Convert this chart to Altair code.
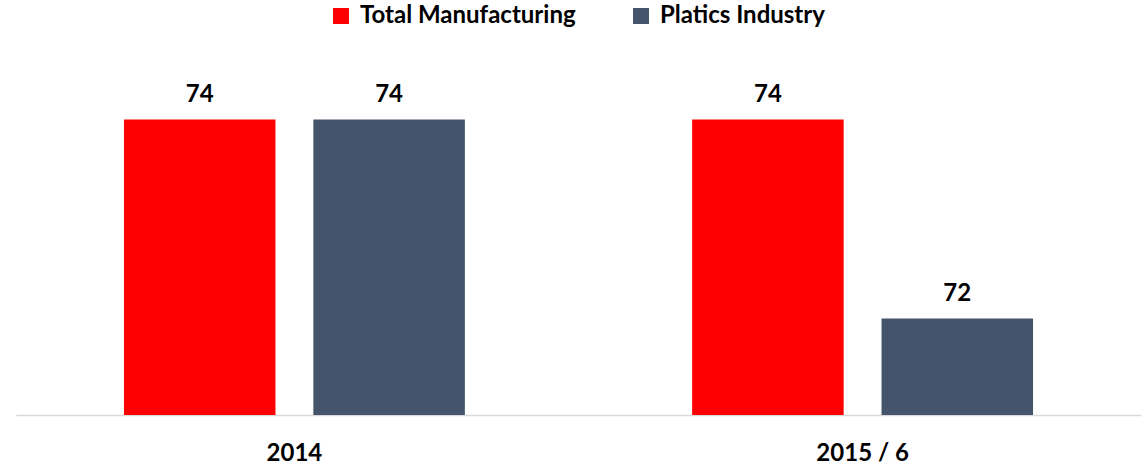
import altair as alt
import pandas as pd

periods = ["2014", "2015 / 6"]
series = ["Total Manufacturing", "Platics Industry"]
total_manufacturing = [74, 74]
plastics_industry = [74, 72]
colors = ["#FF0000", "#44546A"]

rows = []
for i, p in enumerate(periods):
    rows.append({"period": p, "series": series[0], "value": total_manufacturing[i]})
    rows.append({"period": p, "series": series[1], "value": plastics_industry[i]})
df = pd.DataFrame(rows)

FONT = "Lato"

x = alt.X("period:N", sort=periods, title=None,
          scale=alt.Scale(paddingInner=0.4, paddingOuter=0.19),
          axis=alt.Axis(labelAngle=0, labelFont=FONT, labelFontSize=24, labelFontWeight="bold",
                        labelColor="#000000", ticks=False, tickSize=0, labelPadding=26,
                        domainColor="#D9D9D9", domainWidth=1.5, grid=False))
xo = alt.XOffset("series:N", sort=series, scale=alt.Scale(paddingInner=0.2, paddingOuter=0))
y = alt.Y("value:Q", scale=alt.Scale(domain=[71.03, 74.75], zero=False, nice=False, clamp=True),
          axis=None)

bars = alt.Chart(df).mark_bar(clip=True).encode(
    x=x, xOffset=xo, y=y,
    color=alt.Color("series:N", sort=series,
                    scale=alt.Scale(domain=series, range=colors),
                    legend=alt.Legend(title=None, orient="none", direction="horizontal",
                                      legendX=313, legendY=-41,
                                      labelFont=FONT, labelFontSize=24, labelFontWeight="bold",
                                      labelColor="#000000", symbolType="square", symbolSize=256,
                                      symbolStrokeWidth=0, symbolOpacity=1, columnPadding=53,
                                      labelOffset=7, labelLimit=1000))
)

labels = alt.Chart(df).mark_text(font=FONT, fontSize=24, fontWeight="bold", color="#000000",
                                 baseline="alphabetic", dy=-18).encode(
    x=x, xOffset=xo, y=y, text=alt.Text("value:Q", format="d")
)

chart = (bars + labels).properties(
    width=1125, height=370,
    padding={"left": 16, "top": 45, "right": 1, "bottom": 56},
    autosize=alt.AutoSizeParams(type="none"),
    background="#FFFFFF",
).configure_view(stroke=None)

chart.save("out.html", embed_options={"renderer": "svg", "actions": False})
